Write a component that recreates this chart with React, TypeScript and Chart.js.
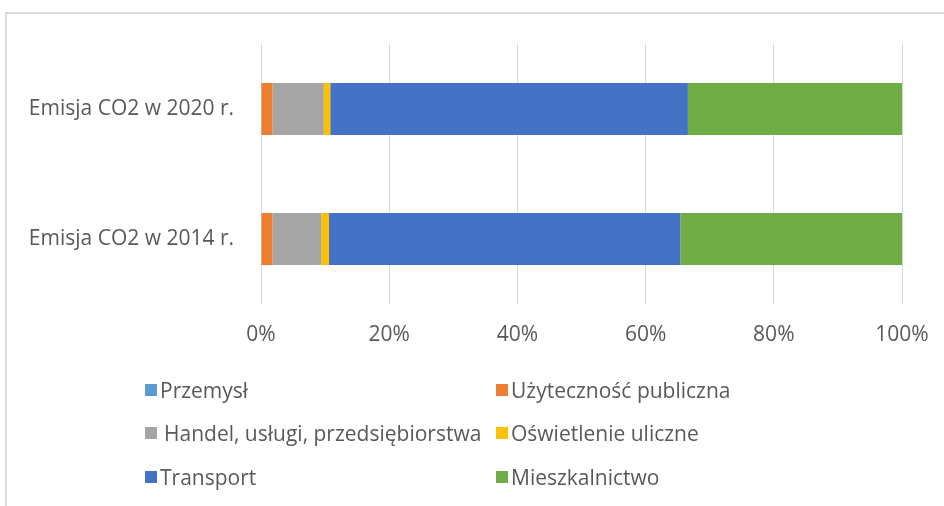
import React, { useEffect, useRef } from "react";
import { Chart, registerables } from "chart.js";

Chart.register(...registerables);

const categories = ["Emisja CO2 w 2020 r.", "Emisja CO2 w 2014 r."];
const seriesNames = [
  "Przemysł",
  "Użyteczność publiczna",
  "Handel, usługi, przedsiębiorstwa",
  "Oświetlenie uliczne",
  "Transport",
  "Mieszkalnictwo",
];
const przemysl = [0, 0];
const uzytecznosc = [1.8, 1.8];
const handel = [8.0, 7.6];
const oswietlenie = [1.0, 1.2];
const transport = [55.8, 54.8];
const mieszkalnictwo = [33.4, 34.6];
const seriesColors = ["#5B9BD5", "#ED7D31", "#A5A5A5", "#FFC000", "#4472C4", "#70AD47"];
const xTickMax = 100;
const xTickStep = 20;

const FONT = "'Open Sans', Lato, sans-serif";
const TEXT = "#595959";
const FS = 21;

// legend layout: [column, row] for each series
const legendCells = [
  [0, 0],
  [1, 0],
  [0, 1],
  [1, 1],
  [0, 2],
  [1, 2],
];

export default function App() {
  const ref = useRef<HTMLCanvasElement | null>(null);

  useEffect(() => {
    if (!ref.current) return;
    const values = [przemysl, uzytecznosc, handel, oswietlenie, transport, mieszkalnictwo];
    const chart = new Chart(ref.current, {
      type: "bar",
      data: {
        labels: categories,
        datasets: seriesNames.map((name, i) => ({
          label: name,
          data: values[i],
          backgroundColor: seriesColors[i],
          borderWidth: 0,
          categoryPercentage: 0.8,
          barPercentage: 0.5,
        })),
      },
      options: {
        indexAxis: "y",
        animation: false,
        responsive: false,
        maintainAspectRatio: false,
        layout: { padding: { top: 44, right: 42, bottom: 152, left: 0 } },
        plugins: { legend: { display: false }, tooltip: { enabled: false } },
        scales: {
          x: {
            stacked: true,
            min: 0,
            max: xTickMax,
            grid: { color: "#d9d9d9", lineWidth: 1, drawTicks: false },
            border: { display: false },
            ticks: {
              stepSize: xTickStep,
              padding: 18,
              color: TEXT,
              font: { family: FONT, size: FS },
              callback: (v: any) => v + "%",
            },
            afterFit: (s: any) => {
              s.height = 50;
              s.paddingLeft = 0;
              s.paddingRight = 0;
            },
          },
          y: {
            stacked: true,
            grid: { display: false, drawTicks: false },
            border: { display: false },
            ticks: {
              padding: 27,
              color: TEXT,
              font: { family: FONT, size: FS },
            },
            afterFit: (s: any) => {
              s.width = 261;
              s.paddingTop = 0;
              s.paddingBottom = 0;
            },
          },
        },
      },
    });
    return () => chart.destroy();
  }, []);

  return (
    <div
      style={{
        position: "absolute",
        left: 0,
        top: 0,
        width: 944,
        height: 506,
        overflow: "hidden",
        background: "#fff",
        fontFamily: FONT,
      }}
    >
      <div
        style={{
          position: "absolute",
          left: 5,
          top: 12,
          width: 1100,
          height: 700,
          borderLeft: "2px solid #d9d9d9",
          borderTop: "2px solid #d9d9d9",
        }}
      />
      <canvas ref={ref} width={944} height={506} style={{ position: "absolute", left: 0, top: 0 }} />
      {seriesNames.map((name, i) => {
        const [col, row] = legendCells[i];
        const left = col === 0 ? 145 : 496;
        const cy = [390, 433, 477][row];
        return (
          <div
            key={name}
            style={{
              position: "absolute",
              left,
              top: cy - 14,
              height: 28,
              display: "flex",
              alignItems: "center",
              whiteSpace: "nowrap",
              fontSize: FS,
              color: TEXT,
            }}
          >
            <span
              style={{
                display: "inline-block",
                width: 12,
                height: 12,
                background: seriesColors[i],
                marginRight: i === 2 ? 7 : 3,
              }}
            />
            <span>{name}</span>
          </div>
        );
      })}
    </div>
  );
}
